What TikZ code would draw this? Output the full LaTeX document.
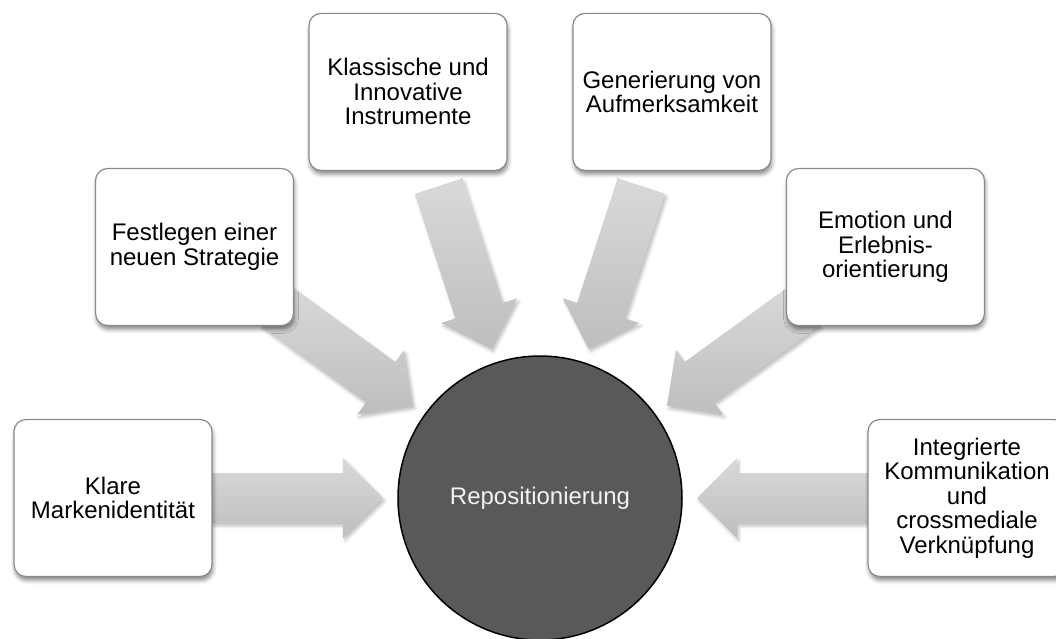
\documentclass[tikz,border=0pt]{standalone}
\usepackage{fontspec}
\setmainfont{Liberation Sans}
\usetikzlibrary{calc,shadows.blur}
\definecolor{boxborder}{HTML}{8A8A8A}
\definecolor{arrowtop}{HTML}{D9D9D9}
\definecolor{arrowbot}{HTML}{BEBEBE}
\definecolor{hubfill}{HTML}{595959}
\definecolor{hubtext}{HTML}{F2F2F2}
\begin{document}
\begin{tikzpicture}[x=1pt,y=1pt,
  box/.style={draw=boxborder, line width=1.2pt, fill=white, rounded corners=12pt,
    minimum width=198pt, minimum height=157pt, inner sep=0pt, align=center,
    font=\fontsize{24}{24.5}\selectfont,
    blur shadow={shadow xshift=1pt, shadow yshift=-4pt, shadow blur radius=4pt, shadow opacity=45}},
  blockarrow/.style={top color=arrowtop, bottom color=arrowbot, draw=none,
    blur shadow={shadow xshift=2pt, shadow yshift=-3pt, shadow blur radius=3pt, shadow opacity=25}},
  hub/.style={circle, draw=black, line width=1.5pt, fill=hubfill, minimum size=284pt,
    inner sep=0pt, text=hubtext, font=\fontsize{24}{24.5}\selectfont}]
\useasboundingbox (-540,-140) rectangle (516,498);
\coordinate (c) at (0,0);
% block arrows
\foreach \a in {180,144,108,72,36,0}{
  \path[blockarrow]
    ($(c)+(\a:328)+(\a+90:25)$) --
    ($(c)+(\a:197)+(\a+90:25)$) --
    ($(c)+(\a:197)+(\a+90:40)$) --
    ($(c)+(\a:157)$) --
    ($(c)+(\a:197)+(\a-90:40)$) --
    ($(c)+(\a:197)+(\a-90:25)$) --
    ($(c)+(\a:328)+(\a-90:25)$) -- cycle;
}
% boxes
\node[box] (b1) at (180:427) {Klare\\Markenidentität};
\node[box] (b2) at (144:427) {Festlegen einer\\neuen Strategie};
\node[box] (b3) at (108:427) {Klassische und\\Innovative\\Instrumente};
\node[box] (b4) at (72:427) {Generierung von\\Aufmerksamkeit};
\node[box] (b5) at (36:427) {Emotion und\\Erlebnis-\\orientierung};
\node[box] (b6) at (0:427) {Integrierte\\Kommunikation\\und\\crossmediale\\Verknüpfung};
% hub
\node[hub] (hubnode) at (c) {Repositionierung};
\end{tikzpicture}
\end{document}
